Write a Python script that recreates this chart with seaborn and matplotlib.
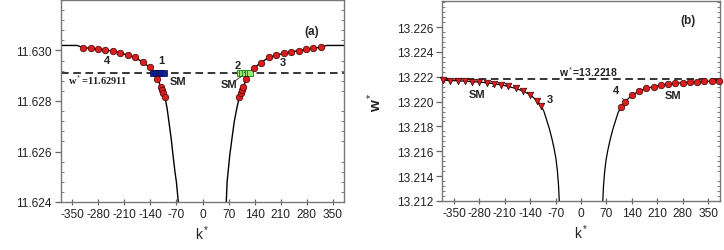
import matplotlib
matplotlib.use("Agg")
import matplotlib.pyplot as plt
from matplotlib.ticker import AutoMinorLocator
import seaborn as sns

# ---- panel (a) ----
a_left_k = [-385, -337, -320, -300, -281, -261, -241, -222, -201, -181, -161, -141,
            -128, -121, -112, -109, -106, -101, -95, -90, -84, -79, -74, -70, -65, -63]
a_left_w = [11.6302, 11.6302, 11.63011, 11.63009, 11.63006, 11.63002, 11.62998, 11.62991,
            11.62982, 11.62973, 11.62954, 11.62933, 11.62911, 11.62888, 11.62857, 11.62843,
            11.6283, 11.62817, 11.6277, 11.62716, 11.6265, 11.62583, 11.6252, 11.62478,
            11.624, 11.6236]
a_right_k = [63, 66, 73, 79, 85, 92, 99, 104, 107, 110, 118, 125, 138, 157, 178, 198,
             218, 238, 258, 278, 298, 318, 333, 385]
a_right_w = [11.6237, 11.62478, 11.62583, 11.6265, 11.62716, 11.6277, 11.62817, 11.6283,
             11.62843, 11.62857, 11.62888, 11.62911, 11.6293, 11.62952, 11.62973, 11.62981,
             11.62989, 11.62995, 11.62999, 11.63005, 11.63009, 11.63013, 11.6302, 11.6302]

a_dots_k = [-320, -300, -281, -261, -241, -222, -201, -181, -161, -141,
            -121, -112, -109, -106, -101,
            99, 104, 107, 110, 118,
            138, 157, 178, 198, 218, 238, 258, 278, 298, 318]
a_dots_w = [11.63011, 11.63009, 11.63006, 11.63002, 11.62998, 11.62991, 11.62982, 11.62973,
            11.62954, 11.62933,
            11.62888, 11.62857, 11.62843, 11.6283, 11.62817,
            11.62817, 11.6283, 11.62843, 11.62857, 11.62888,
            11.6293, 11.62952, 11.62973, 11.62981, 11.62989, 11.62995, 11.62999, 11.63005,
            11.63009, 11.63013]
a_blue_k = [-132, -125, -118, -111, -104]
a_blue_w = [11.62911, 11.62911, 11.62911, 11.62911, 11.62911]
a_green_k = [100, 107, 114, 121, 128]
a_green_w = [11.62911, 11.62911, 11.62911, 11.62911, 11.62911]
a_wstar = 11.62911
a_yticks = [11.624, 11.626, 11.628, 11.630]

# ---- panel (b) ----
b_tri_k = [-380, -360, -340, -320, -300, -280, -260, -240, -220, -200, -180, -160,
           -140, -120, -110]
b_tri_w = [13.22172, 13.22170, 13.22168, 13.22165, 13.22161, 13.22157, 13.22152,
           13.22145, 13.22135, 13.22122, 13.22106, 13.22086, 13.22055, 13.22005, 13.21968]
b_circ_k = [110, 120, 140, 160, 180, 200, 220, 240, 260, 280, 300, 320, 340, 360, 380]
b_circ_w = [13.21956, 13.21997, 13.2205, 13.22085, 13.22107, 13.2212, 13.22133, 13.22141,
            13.22147, 13.22153, 13.22157, 13.2216, 13.22163, 13.22165, 13.22169]
b_left_k = [-390] + b_tri_k + [-102, -95, -87, -80, -74, -69, -65, -62, -60, -59.5]
b_left_w = [13.22174] + b_tri_w + [13.2192, 13.21855, 13.2178, 13.217, 13.2162, 13.2154,
                                   13.2144, 13.2133, 13.2121, 13.2117]
b_right_k = [59.5, 60, 62, 65, 69, 74, 80, 87, 95, 102] + b_circ_k + [390]
b_right_w = [13.2117, 13.212, 13.2132, 13.2143, 13.2153, 13.2161, 13.2169, 13.2177,
             13.21845, 13.2191] + b_circ_w + [13.2217]
b_wstar = 13.2218
b_yticks = [13.212, 13.214, 13.216, 13.218, 13.220, 13.222, 13.224, 13.226]

xticks = [-350, -280, -210, -140, -70, 0, 70, 140, 210, 280, 350]

sns.set_style("ticks")
plt.rcParams['font.family'] = ['Liberation Sans', 'DejaVu Sans']
plt.rcParams['mathtext.fontset'] = 'custom'
plt.rcParams['mathtext.rm'] = 'Liberation Sans'
plt.rcParams['mathtext.it'] = 'Liberation Sans'

RED = '#d81e1e'
fig = plt.figure(figsize=(7.24, 2.51), dpi=100)
ax_a = fig.add_axes([61 / 724, 48 / 251, 283 / 724, 202 / 251])
ax_b = fig.add_axes([442 / 724, 49 / 251, 278 / 724, 200 / 251])


def style_axis(ax, yticks, ylim, xlim):
    ax.set_xlim(*xlim)
    ax.set_ylim(*ylim)
    ax.set_xticks(xticks)
    ax.set_xticklabels([str(t) for t in xticks])
    ax.set_yticks(yticks)
    ax.set_yticklabels([f"{t:.3f}" for t in yticks])
    ax.yaxis.set_minor_locator(AutoMinorLocator(5))
    ax.tick_params(axis='y', which='major', direction='out', length=4, width=0.9,
                   color='#666666', labelsize=8.6, pad=2.5, labelcolor='#222222')
    ax.tick_params(axis='y', which='minor', direction='in', length=2.5, width=0.7,
                   color='#777777', right=True)
    ax.tick_params(axis='x', which='major', direction='inout', length=5, width=0.9,
                   color='#666666', labelsize=8.6, pad=2, labelcolor='#222222')
    for s in ax.spines.values():
        s.set_visible(True)
        s.set_color('#777777')
        s.set_linewidth(1.0)
    ax.set_xlabel('k$^*$', fontsize=10, labelpad=2, color='#222222')
    ax.set_ylabel('w$^*$', fontsize=11, fontweight='bold', labelpad=9, color='#222222')


def leader(ax, txt, xy, xytext, fs=8):
    ax.annotate(txt, xy=xy, xytext=xytext, fontsize=fs, fontweight='bold',
                ha='center', va='center', color='#222222',
                arrowprops=dict(arrowstyle='-', lw=0.6, color='#333333',
                                shrinkA=3, shrinkB=0))


# panel (a)
ax_a.axhline(a_wstar, color='black', lw=1.1, ls=(0, (5, 3)), zorder=1)
sns.lineplot(x=a_left_k, y=a_left_w, ax=ax_a, color='black', lw=1.0, zorder=2)
sns.lineplot(x=a_right_k, y=a_right_w, ax=ax_a, color='black', lw=1.0, zorder=2)
sns.scatterplot(x=a_dots_k, y=a_dots_w, ax=ax_a, color=RED, marker='o', s=22,
                edgecolor='#400000', linewidth=0.5, zorder=4)
sns.scatterplot(x=a_blue_k, y=a_blue_w, ax=ax_a, color='#0b1f9a', marker='s', s=14,
                edgecolor='#0a0a50', linewidth=0.5, zorder=3)
sns.scatterplot(x=a_green_k, y=a_green_w, ax=ax_a, color='#9fe87a', marker='s', s=14,
                edgecolor='#1e8a1e', linewidth=0.7, zorder=3)
style_axis(ax_a, a_yticks, (11.624, 11.632), (-380, 380))
ax_a.text(-362, 11.62888, 'w$^*$=11.62911', fontsize=7.5, fontweight='bold',
          family=['Liberation Serif'], va='center', ha='left', color='#222222')
ax_a.text(0.887, 0.846, '(a)', transform=ax_a.transAxes, fontsize=8.5,
          fontweight='bold', ha='center', va='center')
leader(ax_a, '4', (-220, 11.62991), (-257, 11.62962))
leader(ax_a, '1', (-127, 11.62912), (-110, 11.62962))
leader(ax_a, 'SM', (-103, 11.62911), (-67, 11.62878))
leader(ax_a, '2', (114, 11.62912), (95, 11.62942))
leader(ax_a, 'SM', (110, 11.62862), (72, 11.62867))
ax_a.annotate('', xy=(112, 11.62905), xytext=(80, 11.62872),
              arrowprops=dict(arrowstyle='-', lw=0.6, color='#333333'))
leader(ax_a, '3', (180, 11.62972), (216, 11.62953))

# panel (b)
ax_b.axhline(b_wstar, color='black', lw=1.1, ls=(0, (5, 3)), zorder=1)
sns.lineplot(x=b_left_k, y=b_left_w, ax=ax_b, color='black', lw=0.9, zorder=2)
sns.lineplot(x=b_right_k, y=b_right_w, ax=ax_b, color='black', lw=0.9, zorder=2)
sns.scatterplot(x=b_tri_k, y=b_tri_w, ax=ax_b, color=RED, marker='v', s=22,
                edgecolor='#400000', linewidth=0.5, zorder=4, clip_on=False)
sns.scatterplot(x=b_circ_k, y=b_circ_w, ax=ax_b, color=RED, marker='o', s=22,
                edgecolor='#400000', linewidth=0.5, zorder=4, clip_on=False)
style_axis(ax_b, b_yticks, (13.212, 13.2281), (-383, 383))
ax_b.text(-61, 13.22243, 'w$^*$=13.2218', fontsize=7.5, fontweight='bold',
          va='center', ha='left', color='#222222')
ax_b.text(0.885, 0.905, '(b)', transform=ax_b.transAxes, fontsize=8.5,
          fontweight='bold', ha='center', va='center')
leader(ax_b, 'SM', (-235, 13.22132), (-287, 13.22064))
leader(ax_b, '3', (-112, 13.2197), (-85, 13.2202))
leader(ax_b, '4', (120, 13.22005), (96, 13.22095))
leader(ax_b, 'SM', (215, 13.22128), (254, 13.22053))

fig.savefig('out.png', dpi=100)
